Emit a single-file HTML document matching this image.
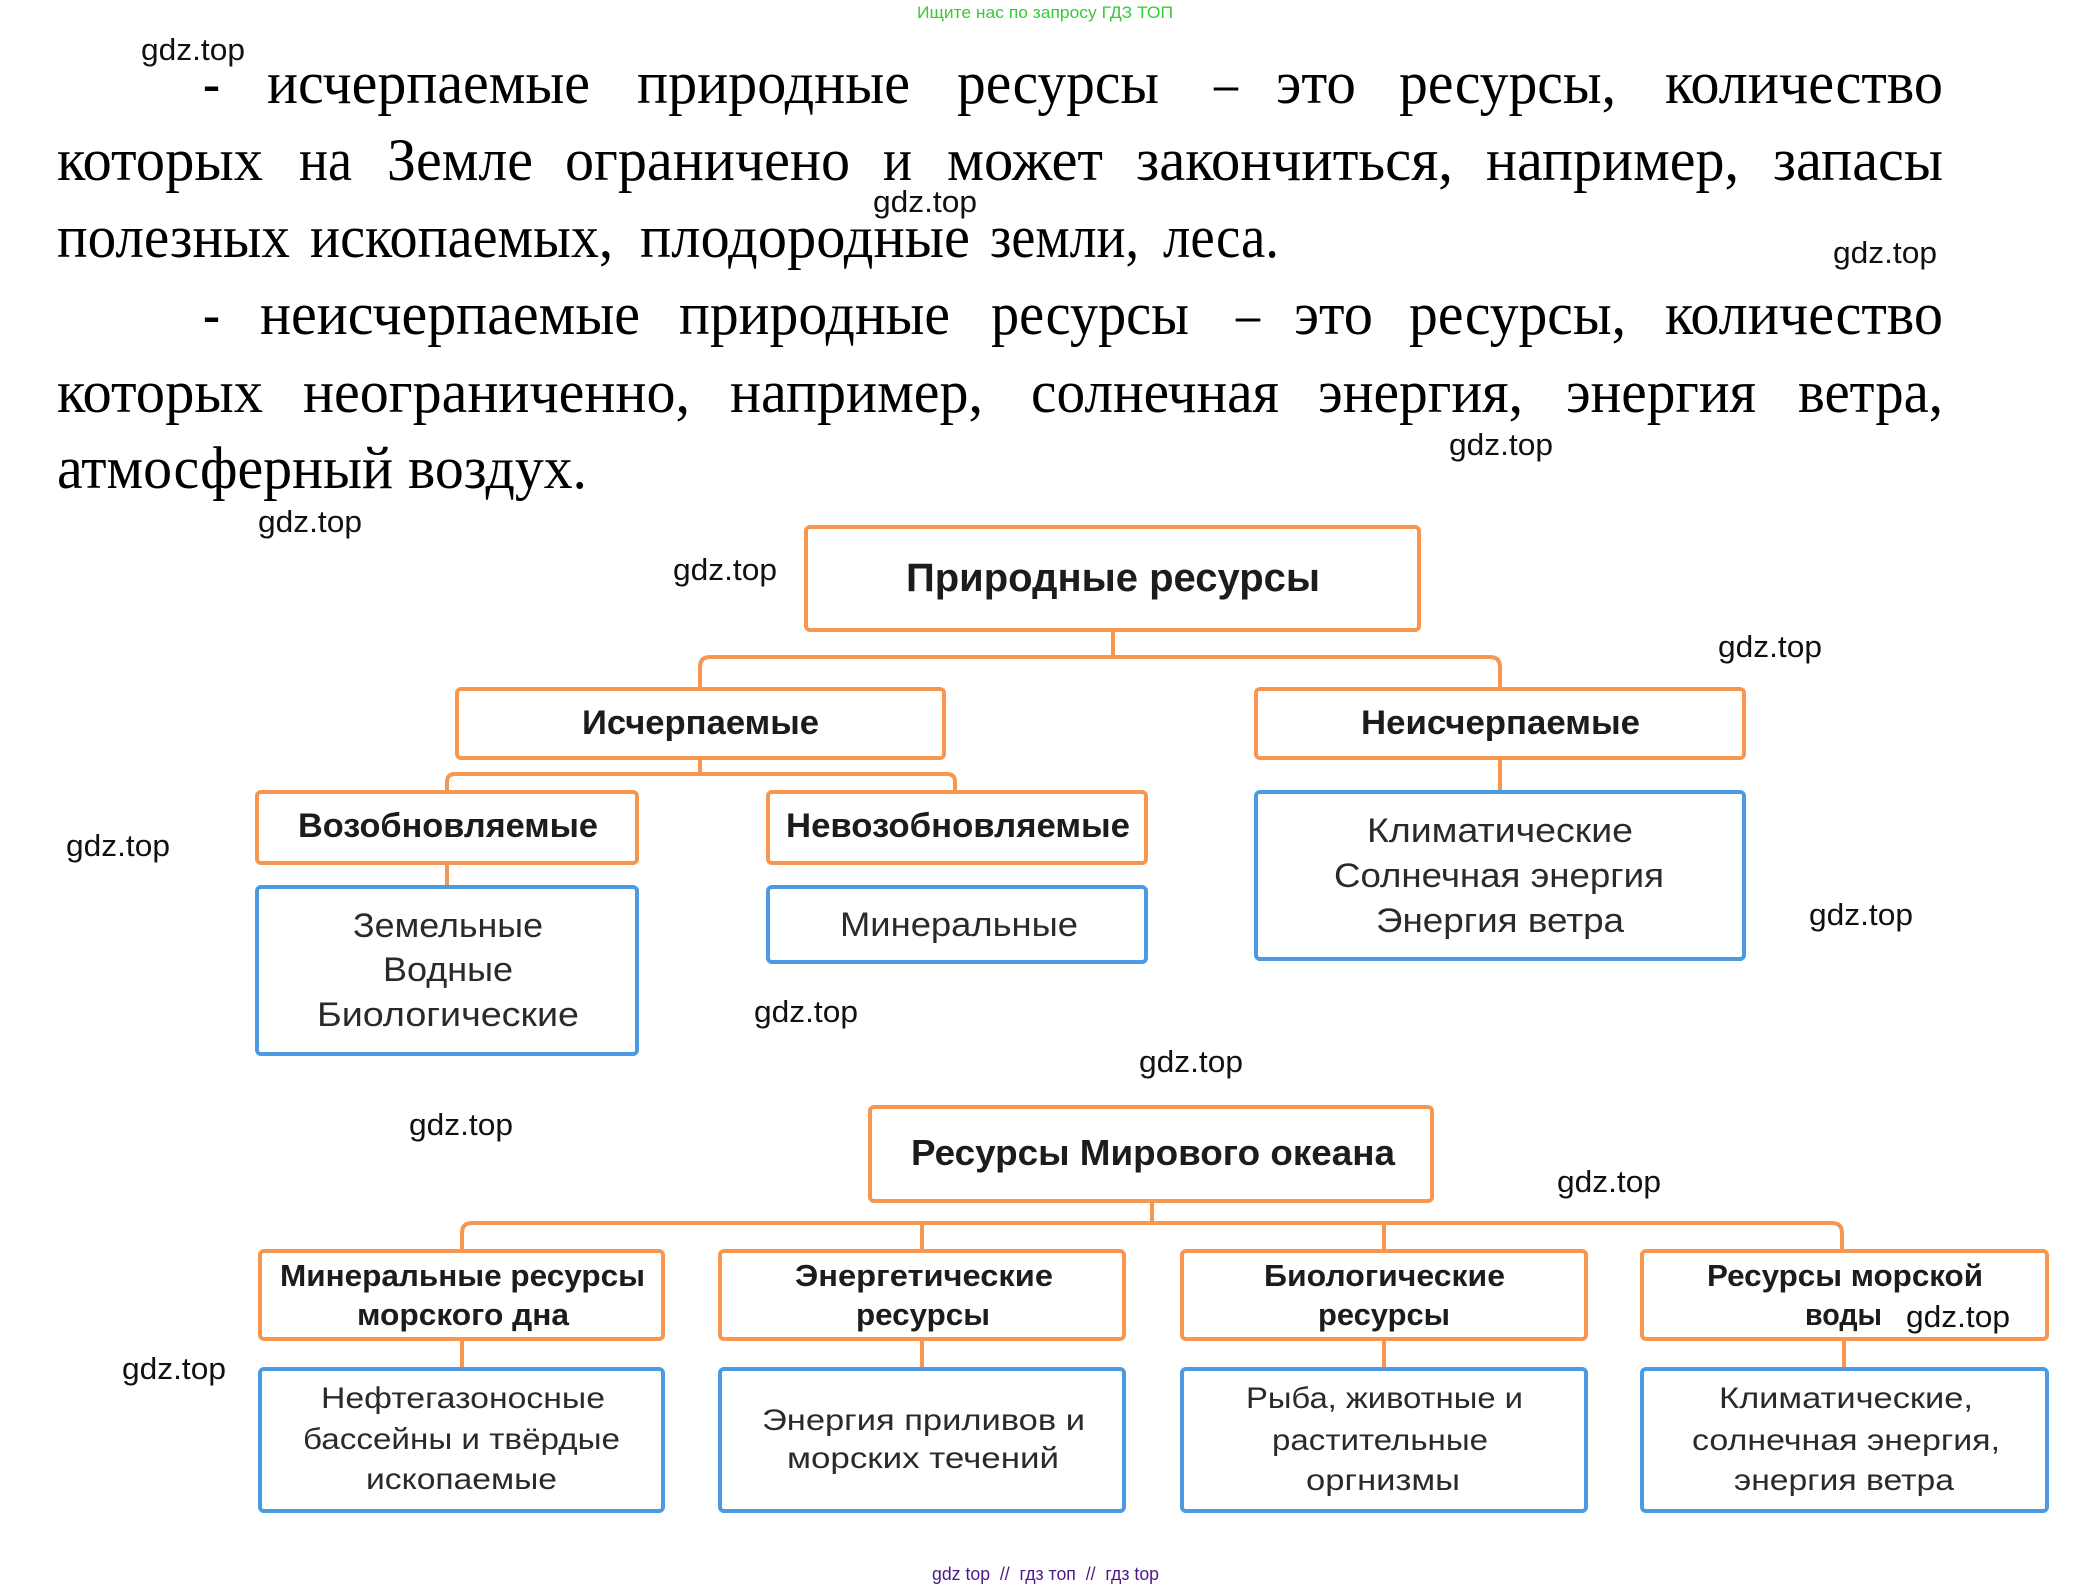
<!DOCTYPE html>
<html>
<head>
<meta charset="utf-8">
<style>
  html,body{margin:0;padding:0;background:#fff;}
  body{width:2092px;height:1590px;overflow:hidden;}
  svg{display:block;}
  .b{font-family:"Liberation Serif","Noto Serif CJK SC",serif;font-size:60px;fill:#000;}
  .wm{font-family:"Liberation Sans","Noto Sans CJK SC",sans-serif;font-size:31px;fill:#111;}
  .h{font-family:"Liberation Sans","Noto Sans CJK SC",sans-serif;font-weight:bold;fill:#1c1c1c;}
  .n{font-family:"Liberation Sans","Noto Sans CJK SC",sans-serif;fill:#2a2a2a;}
  .o{fill:#fff;stroke:#F7964F;stroke-width:4;}
  .bl{fill:#fff;stroke:#4A9BE2;stroke-width:4;}
  .c{fill:none;stroke:#F7964F;stroke-width:4;}
</style>
</head>
<body>
<svg width="2092" height="1590" viewBox="0 0 2092 1590" xmlns="http://www.w3.org/2000/svg">
  <rect width="2092" height="1590" fill="#fff"/>

  <!-- top green banner -->
  <text x="917" y="18" font-family="Liberation Sans, sans-serif" font-size="17" fill="#33cc33" textLength="256" lengthAdjust="spacingAndGlyphs">Ищите нас по запросу ГДЗ ТОП</text>

  <!-- body paragraph -->
  <g class="b">
    <!-- line 1 -->
    <text x="203" y="103" textLength="17" lengthAdjust="spacingAndGlyphs">-</text>
    <text x="267" y="103" textLength="323" lengthAdjust="spacingAndGlyphs">исчерпаемые</text>
    <text x="637" y="103" textLength="273" lengthAdjust="spacingAndGlyphs">природные</text>
    <text x="957" y="103" textLength="202" lengthAdjust="spacingAndGlyphs">ресурсы</text>
    <text x="1214" y="103" textLength="24" lengthAdjust="spacingAndGlyphs">–</text>
    <text x="1276" y="103" textLength="80" lengthAdjust="spacingAndGlyphs">это</text>
    <text x="1399" y="103" textLength="217" lengthAdjust="spacingAndGlyphs">ресурсы,</text>
    <text x="1665" y="103" textLength="278" lengthAdjust="spacingAndGlyphs">количество</text>
    <!-- line 2 -->
    <text x="57" y="180" textLength="206" lengthAdjust="spacingAndGlyphs">которых</text>
    <text x="299" y="180" textLength="53" lengthAdjust="spacingAndGlyphs">на</text>
    <text x="387" y="180" textLength="146" lengthAdjust="spacingAndGlyphs">Земле</text>
    <text x="565" y="180" textLength="285" lengthAdjust="spacingAndGlyphs">ограничено</text>
    <text x="883" y="180" textLength="29" lengthAdjust="spacingAndGlyphs">и</text>
    <text x="947" y="180" textLength="156" lengthAdjust="spacingAndGlyphs">может</text>
    <text x="1136" y="180" textLength="317" lengthAdjust="spacingAndGlyphs">закончиться,</text>
    <text x="1486" y="180" textLength="253" lengthAdjust="spacingAndGlyphs">например,</text>
    <text x="1773" y="180" textLength="170" lengthAdjust="spacingAndGlyphs">запасы</text>
    <!-- line 3 -->
    <text x="57" y="257" textLength="233" lengthAdjust="spacingAndGlyphs">полезных</text>
    <text x="310" y="257" textLength="303" lengthAdjust="spacingAndGlyphs">ископаемых,</text>
    <text x="640" y="257" textLength="330" lengthAdjust="spacingAndGlyphs">плодородные</text>
    <text x="990" y="257" textLength="149" lengthAdjust="spacingAndGlyphs">земли,</text>
    <text x="1163" y="257" textLength="116" lengthAdjust="spacingAndGlyphs">леса.</text>
    <!-- line 4 -->
    <text x="203" y="334" textLength="17" lengthAdjust="spacingAndGlyphs">-</text>
    <text x="260" y="334" textLength="380" lengthAdjust="spacingAndGlyphs">неисчерпаемые</text>
    <text x="679" y="334" textLength="271" lengthAdjust="spacingAndGlyphs">природные</text>
    <text x="991" y="334" textLength="198" lengthAdjust="spacingAndGlyphs">ресурсы</text>
    <text x="1236" y="334" textLength="24" lengthAdjust="spacingAndGlyphs">–</text>
    <text x="1294" y="334" textLength="79" lengthAdjust="spacingAndGlyphs">это</text>
    <text x="1409" y="334" textLength="217" lengthAdjust="spacingAndGlyphs">ресурсы,</text>
    <text x="1665" y="334" textLength="278" lengthAdjust="spacingAndGlyphs">количество</text>
    <!-- line 5 -->
    <text x="57" y="412" textLength="206" lengthAdjust="spacingAndGlyphs">которых</text>
    <text x="303" y="412" textLength="387" lengthAdjust="spacingAndGlyphs">неограниченно,</text>
    <text x="730" y="412" textLength="253" lengthAdjust="spacingAndGlyphs">например,</text>
    <text x="1031" y="412" textLength="248" lengthAdjust="spacingAndGlyphs">солнечная</text>
    <text x="1318" y="412" textLength="205" lengthAdjust="spacingAndGlyphs">энергия,</text>
    <text x="1566" y="412" textLength="190" lengthAdjust="spacingAndGlyphs">энергия</text>
    <text x="1798" y="412" textLength="145" lengthAdjust="spacingAndGlyphs">ветра,</text>
    <!-- line 6 -->
    <text x="57" y="488" textLength="336" lengthAdjust="spacingAndGlyphs">атмосферный</text>
    <text x="408" y="488" textLength="179" lengthAdjust="spacingAndGlyphs">воздух.</text>
  </g>

  <!-- ===== Diagram 1 ===== -->
  <path class="c" d="M1113 632 V657"/>
  <path class="c" d="M700 687 V667 Q700 657 710 657 H1490 Q1500 657 1500 667 V687"/>
  <path class="c" d="M700 760 V774"/>
  <path class="c" d="M447 790 V782 Q447 774 455 774 H947 Q955 774 955 782 V790"/>
  <path class="c" d="M447 865 V885"/>
  <path class="c" d="M1500 760 V790"/>

  <rect class="o" x="806" y="527" width="613" height="103" rx="4"/>
  <rect class="o" x="457" y="689" width="487" height="69" rx="4"/>
  <rect class="o" x="1256" y="689" width="488" height="69" rx="4"/>
  <rect class="o" x="257" y="792" width="380" height="71" rx="4"/>
  <rect class="o" x="768" y="792" width="378" height="71" rx="4"/>
  <rect class="bl" x="257" y="887" width="380" height="167" rx="4"/>
  <rect class="bl" x="768" y="887" width="378" height="75" rx="4"/>
  <rect class="bl" x="1256" y="792" width="488" height="167" rx="4"/>

  <text class="h" x="906" y="591" font-size="40" textLength="414" lengthAdjust="spacingAndGlyphs">Природные ресурсы</text>
  <text class="h" x="582" y="734" font-size="34" textLength="237" lengthAdjust="spacingAndGlyphs">Исчерпаемые</text>
  <text class="h" x="1361" y="734" font-size="34" textLength="279" lengthAdjust="spacingAndGlyphs">Неисчерпаемые</text>
  <text class="h" x="298" y="837" font-size="34" textLength="300" lengthAdjust="spacingAndGlyphs">Возобновляемые</text>
  <text class="h" x="786" y="837" font-size="34" textLength="344" lengthAdjust="spacingAndGlyphs">Невозобновляемые</text>

  <text class="n" x="353" y="937" font-size="34" textLength="190" lengthAdjust="spacingAndGlyphs">Земельные</text>
  <text class="n" x="383" y="981" font-size="34" textLength="130" lengthAdjust="spacingAndGlyphs">Водные</text>
  <text class="n" x="317" y="1026" font-size="34" textLength="262" lengthAdjust="spacingAndGlyphs">Биологические</text>
  <text class="n" x="840" y="936" font-size="34" textLength="238" lengthAdjust="spacingAndGlyphs">Минеральные</text>
  <text class="n" x="1367" y="842" font-size="34" textLength="266" lengthAdjust="spacingAndGlyphs">Климатические</text>
  <text class="n" x="1334" y="887" font-size="34" textLength="330" lengthAdjust="spacingAndGlyphs">Солнечная энергия</text>
  <text class="n" x="1376" y="932" font-size="34" textLength="248" lengthAdjust="spacingAndGlyphs">Энергия ветра</text>

  <!-- ===== Diagram 2 ===== -->
  <path class="c" d="M1152 1203 V1223"/>
  <path class="c" d="M462 1249 V1233 Q462 1223 472 1223 H1832 Q1842 1223 1842 1233 V1249"/>
  <path class="c" d="M922 1223 V1249"/>
  <path class="c" d="M1384 1223 V1249"/>
  <path class="c" d="M462 1341 V1367"/>
  <path class="c" d="M922 1341 V1367"/>
  <path class="c" d="M1384 1341 V1367"/>
  <path class="c" d="M1844 1341 V1367"/>

  <rect class="o" x="870" y="1107" width="562" height="94" rx="4"/>
  <rect class="o" x="260" y="1251" width="403" height="88" rx="4"/>
  <rect class="o" x="720" y="1251" width="404" height="88" rx="4"/>
  <rect class="o" x="1182" y="1251" width="404" height="88" rx="4"/>
  <rect class="o" x="1642" y="1251" width="405" height="88" rx="4"/>
  <rect class="bl" x="260" y="1369" width="403" height="142" rx="4"/>
  <rect class="bl" x="720" y="1369" width="404" height="142" rx="4"/>
  <rect class="bl" x="1182" y="1369" width="404" height="142" rx="4"/>
  <rect class="bl" x="1642" y="1369" width="405" height="142" rx="4"/>

  <text class="h" x="911" y="1165" font-size="36" textLength="484" lengthAdjust="spacingAndGlyphs">Ресурсы Мирового океана</text>

  <text class="h" x="280" y="1286" font-size="31" textLength="365" lengthAdjust="spacingAndGlyphs">Минеральные ресурсы</text>
  <text class="h" x="357" y="1325" font-size="31" textLength="212" lengthAdjust="spacingAndGlyphs">морского дна</text>
  <text class="h" x="795" y="1286" font-size="31" textLength="258" lengthAdjust="spacingAndGlyphs">Энергетические</text>
  <text class="h" x="856" y="1325" font-size="31" textLength="134" lengthAdjust="spacingAndGlyphs">ресурсы</text>
  <text class="h" x="1264" y="1286" font-size="31" textLength="241" lengthAdjust="spacingAndGlyphs">Биологические</text>
  <text class="h" x="1318" y="1325" font-size="31" textLength="132" lengthAdjust="spacingAndGlyphs">ресурсы</text>
  <text class="h" x="1707" y="1286" font-size="31" textLength="276" lengthAdjust="spacingAndGlyphs">Ресурсы морской</text>
  <text class="h" x="1805" y="1325" font-size="31" textLength="77" lengthAdjust="spacingAndGlyphs">воды</text>

  <text class="n" x="321" y="1408" font-size="30" textLength="284" lengthAdjust="spacingAndGlyphs">Нефтегазоносные</text>
  <text class="n" x="303" y="1449" font-size="30" textLength="317" lengthAdjust="spacingAndGlyphs">бассейны и твёрдые</text>
  <text class="n" x="366" y="1489" font-size="30" textLength="191" lengthAdjust="spacingAndGlyphs">ископаемые</text>
  <text class="n" x="762" y="1430" font-size="30" textLength="323" lengthAdjust="spacingAndGlyphs">Энергия приливов и</text>
  <text class="n" x="787" y="1468" font-size="30" textLength="272" lengthAdjust="spacingAndGlyphs">морских течений</text>
  <text class="n" x="1246" y="1408" font-size="30" textLength="277" lengthAdjust="spacingAndGlyphs">Рыба, животные и</text>
  <text class="n" x="1272" y="1450" font-size="30" textLength="216" lengthAdjust="spacingAndGlyphs">растительные</text>
  <text class="n" x="1306" y="1490" font-size="30" textLength="154" lengthAdjust="spacingAndGlyphs">оргнизмы</text>
  <text class="n" x="1719" y="1408" font-size="30" textLength="254" lengthAdjust="spacingAndGlyphs">Климатические,</text>
  <text class="n" x="1692" y="1450" font-size="30" textLength="308" lengthAdjust="spacingAndGlyphs">солнечная энергия,</text>
  <text class="n" x="1734" y="1490" font-size="30" textLength="220" lengthAdjust="spacingAndGlyphs">энергия ветра</text>

  <!-- watermarks -->
  <g class="wm">
    <text x="141" y="60" textLength="104" lengthAdjust="spacingAndGlyphs">gdz.top</text>
    <text x="873" y="212" textLength="104" lengthAdjust="spacingAndGlyphs">gdz.top</text>
    <text x="1833" y="263" textLength="104" lengthAdjust="spacingAndGlyphs">gdz.top</text>
    <text x="1449" y="455" textLength="104" lengthAdjust="spacingAndGlyphs">gdz.top</text>
    <text x="258" y="532" textLength="104" lengthAdjust="spacingAndGlyphs">gdz.top</text>
    <text x="673" y="580" textLength="104" lengthAdjust="spacingAndGlyphs">gdz.top</text>
    <text x="1718" y="657" textLength="104" lengthAdjust="spacingAndGlyphs">gdz.top</text>
    <text x="66" y="856" textLength="104" lengthAdjust="spacingAndGlyphs">gdz.top</text>
    <text x="1809" y="925" textLength="104" lengthAdjust="spacingAndGlyphs">gdz.top</text>
    <text x="754" y="1022" textLength="104" lengthAdjust="spacingAndGlyphs">gdz.top</text>
    <text x="1139" y="1072" textLength="104" lengthAdjust="spacingAndGlyphs">gdz.top</text>
    <text x="409" y="1135" textLength="104" lengthAdjust="spacingAndGlyphs">gdz.top</text>
    <text x="1557" y="1192" textLength="104" lengthAdjust="spacingAndGlyphs">gdz.top</text>
    <text x="122" y="1379" textLength="104" lengthAdjust="spacingAndGlyphs">gdz.top</text>
    <text x="1906" y="1327" textLength="104" lengthAdjust="spacingAndGlyphs">gdz.top</text>
  </g>

  <!-- footer -->
  <text x="932" y="1580" font-family="Liberation Sans, sans-serif" font-size="18" fill="#4a1a8c" textLength="227" lengthAdjust="spacingAndGlyphs" xml:space="preserve">gdz top  //  гдз топ  //  гдз top</text>
</svg>
</body>
</html>
